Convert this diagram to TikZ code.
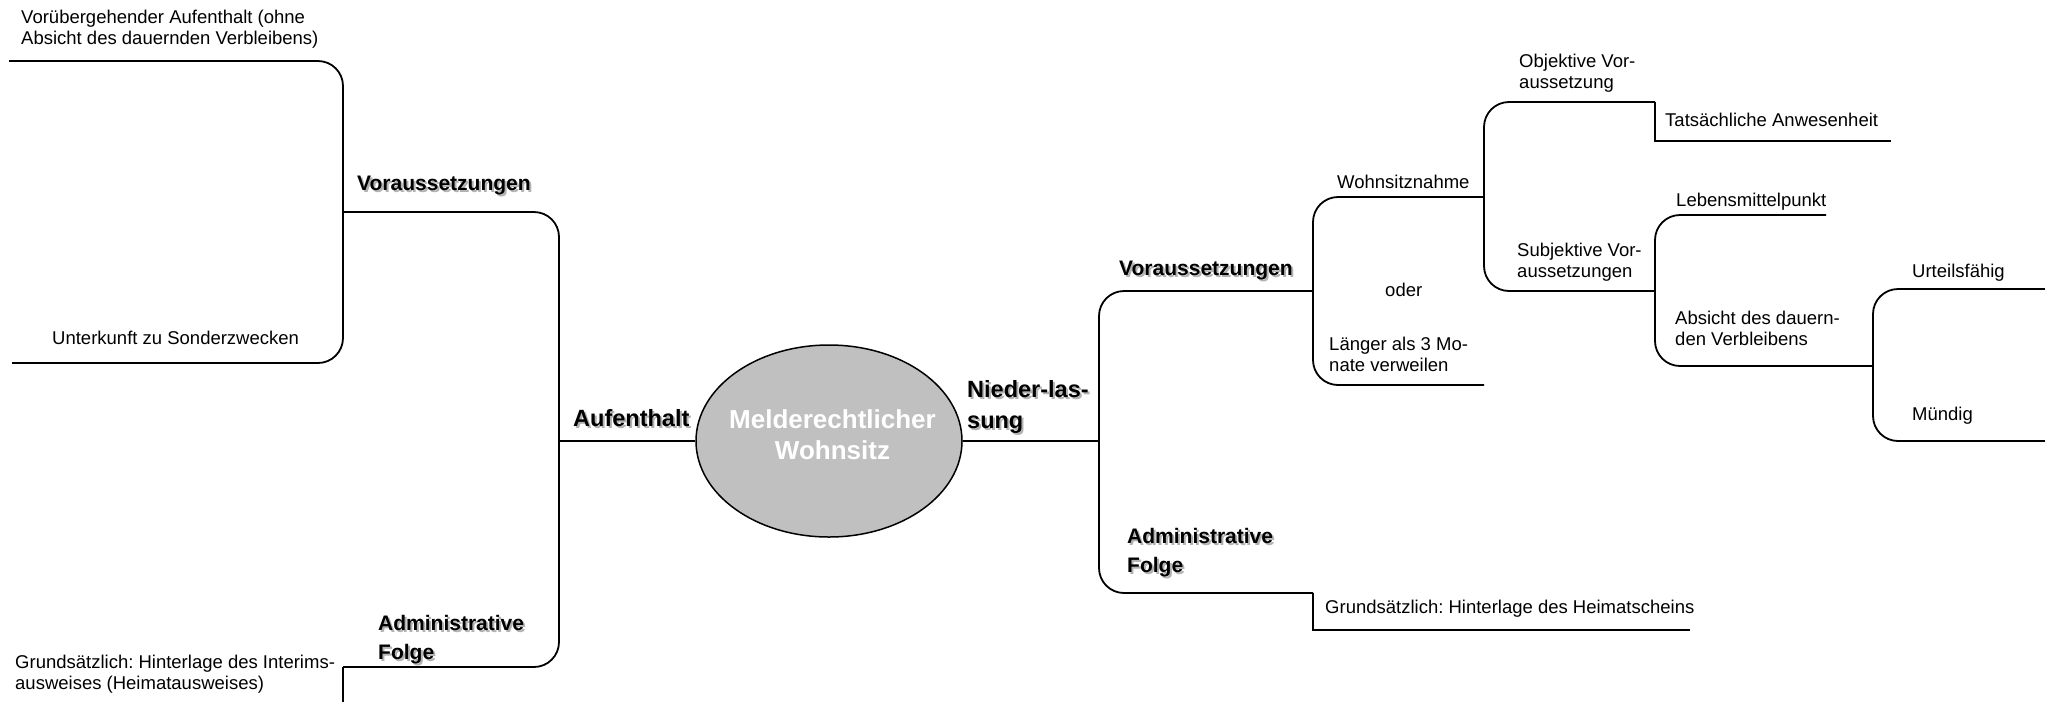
\documentclass[tikz,border=0pt]{standalone}
\usepackage{fontspec}
\setmainfont{Liberation Sans}
\usetikzlibrary{shapes.geometric}
\definecolor{ellgray}{HTML}{C0C0C0}
\frenchspacing
\newcommand\shd[1]{\rlap{\hspace{2pt}\raisebox{-2pt}{\textcolor{black!30}{#1}}}#1}
\newcommand\twol[2]{\vtop{\hbox{#1}\hbox{#2}}}
\tikzset{
  conn/.style={line width=1.8pt, draw=black},
  brk/.style={conn, rounded corners=25pt},
  txt/.style={anchor=base west, inner sep=0pt, font=\fontsize{18.5pt}{21.5pt}\selectfont},
  lvla/.style={anchor=base west, inner sep=0pt, font=\bfseries\fontsize{23.5pt}{31pt}\selectfont},
  lvlb/.style={anchor=base west, inner sep=0pt, font=\bfseries\fontsize{21pt}{29.5pt}\selectfont},
  core/.style={ellipse, draw=black, line width=1.5pt, fill=ellgray, minimum width=266pt, minimum height=192pt, inner sep=0pt},
  coretxt/.style={anchor=base, inner sep=0pt, text=white, font=\bfseries\fontsize{26pt}{31pt}\selectfont}
}
\begin{document}
\begin{tikzpicture}[x=1pt,y=-1pt]
\useasboundingbox (0,0) rectangle (2045,702);

% centre
\node[core] (c) at (829,441) {};
\node[coretxt] (ct) at (832.5,428) {\begin{tabular}[t]{@{}c@{}}Melderechtlicher\\Wohnsitz\end{tabular}};

% ---------- left side ----------
\coordinate (L1) at (559,441);
\coordinate (L2) at (343,212);
\coordinate (L3) at (343,667);
\coordinate (L2a) at (9,61);
\coordinate (L2b) at (12,363);
\coordinate (L3end) at (343,702);

\draw[conn] (c.west) -- (L1);
\draw[brk] (L2) -- (L2 -| L1) -- (L3 -| L1) -- (L3);
\draw[brk] (L2a) -- (L2a -| L2) -- (L2b -| L2) -- (L2b);
\draw[conn] (L3) -- (L3end);

\node[lvla] (auf) at (573,426) {\shd{Aufenthalt}};
\node[lvlb] (vl) at (357,190) {\shd{Voraussetzungen}};
\node[lvlb] (al) at (378,630) {\twol{\shd{Administrative}}{\shd{Folge}}};
\node[txt] (vor) at (21,23) {\twol{Vorübergehender Aufenthalt (ohne}{Absicht des dauernden Verbleibens)}};
\node[txt] (unt) at (52,344) {Unterkunft zu Sonderzwecken};
\node[txt] (gl) at (15,668) {\twol{Grundsätzlich: Hinterlage des Interims-}{ausweises (Heimatausweises)}};

% ---------- right side ----------
\coordinate (R1) at (1099,441);
\coordinate (R2) at (1313,291);
\coordinate (R3) at (1313,593);
\coordinate (R3end) at (1690,630);
\coordinate (R4) at (1484,197);
\coordinate (R2b) at (1484,385);
\coordinate (R5) at (1655,102);
\coordinate (R6) at (1655,291);
\coordinate (R5end) at (1891,141);
\coordinate (R6a) at (1826,215);
\coordinate (R7) at (1873,366);
\coordinate (R7a) at (2045,289);
\coordinate (R7b) at (2045,441);

\draw[conn] (c.east) -- (R1);
\draw[brk] (R2) -- (R2 -| R1) -- (R3 -| R1) -- (R3);
\draw[conn] (R3) |- (R3end);
\draw[brk] (R4) -- (R4 -| R2) -- (R2b -| R2) -- (R2b);
\draw[brk] (R5) -- (R5 -| R4) -- (R6 -| R4) -- (R6);
\draw[conn] (R5) |- (R5end);
\draw[brk] (R6a) -- (R6a -| R6) -- (R7 -| R6) -- (R7);
\draw[brk] (R7a) -- (R7a -| R7) -- (R7b -| R7) -- (R7b);

\node[lvla] (nl) at (967,397) {\twol{\shd{Nieder-las-}}{\shd{sung}}};
\node[lvlb] (vr) at (1119,275) {\shd{Voraussetzungen}};
\node[lvlb] (ar) at (1127,543) {\twol{\shd{Administrative}}{\shd{Folge}}};
\node[txt] (gr) at (1325,613) {Grundsätzlich: Hinterlage des Heimatscheins};
\node[txt] (wn) at (1337,188) {Wohnsitznahme};
\node[txt] (od) at (1385,296) {oder};
\node[txt] (lg) at (1329,350) {\twol{Länger als 3 Mo-}{nate verweilen}};
\node[txt] (ob) at (1519,67) {\twol{Objektive Vor-}{aussetzung}};
\node[txt] (ta) at (1665,126) {Tatsächliche Anwesenheit};
\node[txt] (sv) at (1517,256) {\twol{Subjektive Vor-}{aussetzungen}};
\node[txt] (lm) at (1676,206) {Lebensmittelpunkt};
\node[txt] (ab) at (1675,324) {\twol{Absicht des dauern-}{den Verbleibens}};
\node[txt] (ur) at (1912,277) {Urteilsfähig};
\node[txt] (mu) at (1912,420) {Mündig};
\end{tikzpicture}
\end{document}
